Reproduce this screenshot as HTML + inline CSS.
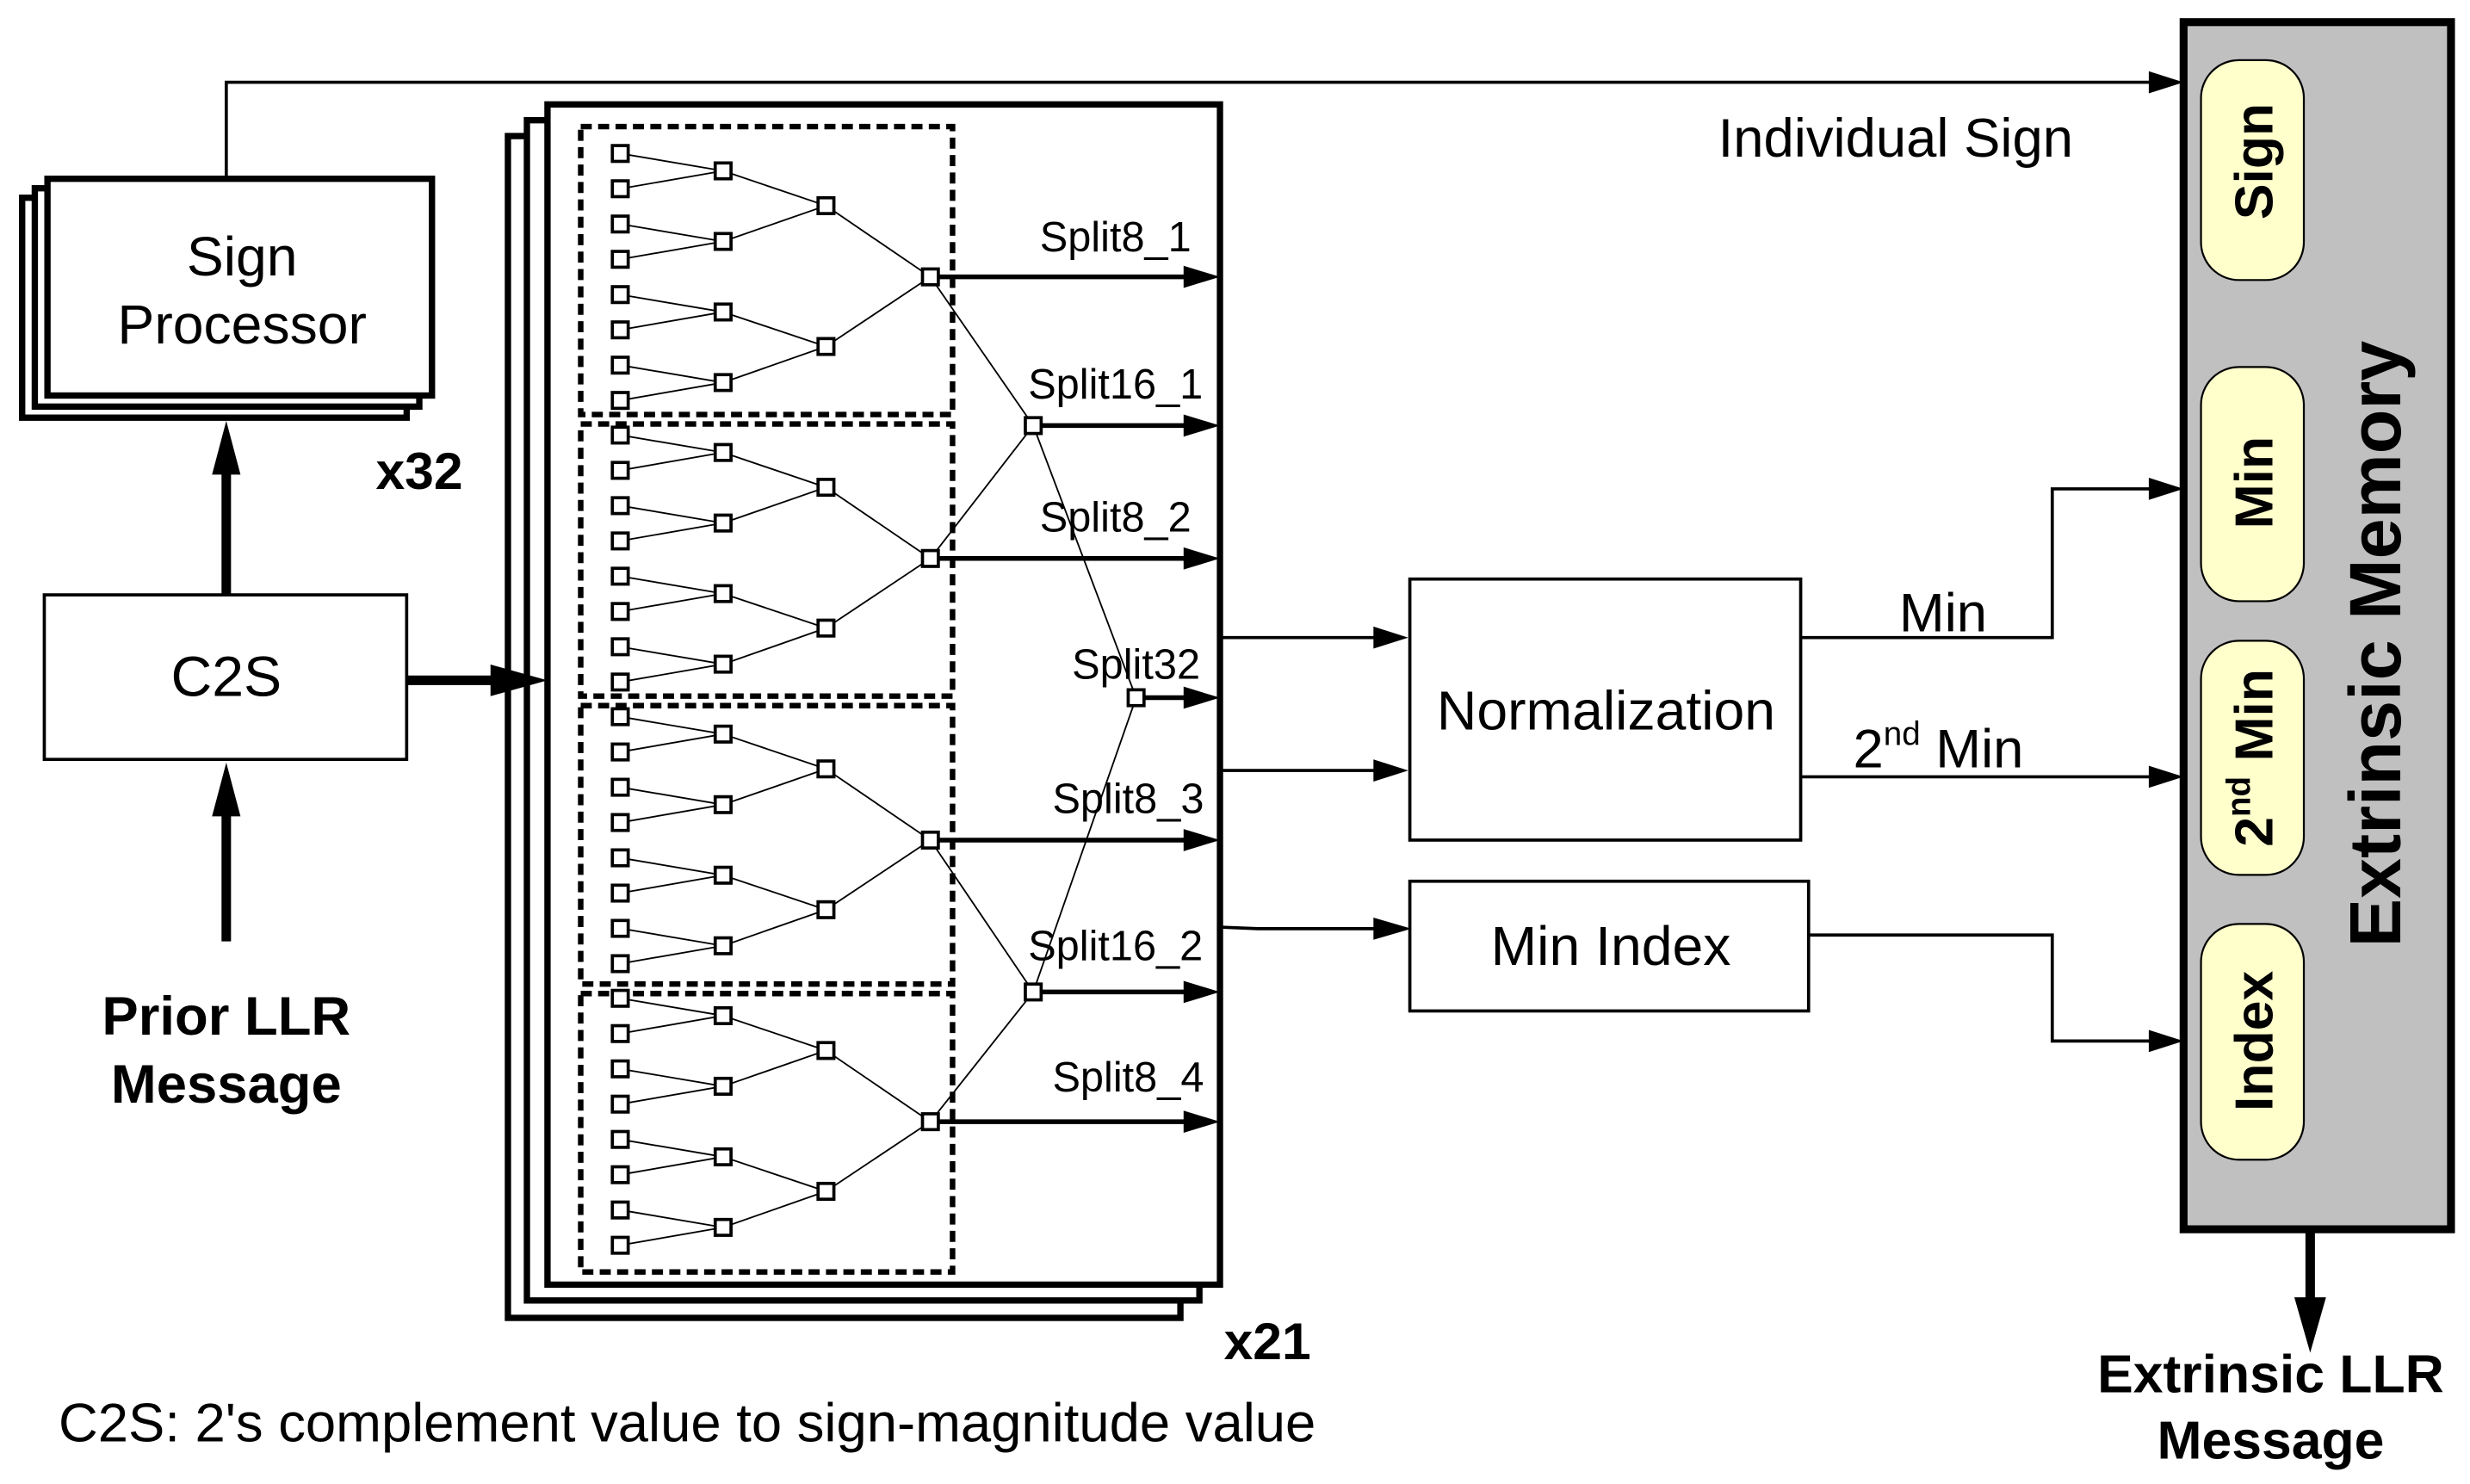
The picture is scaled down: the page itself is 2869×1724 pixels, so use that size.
<!DOCTYPE html>
<html><head><meta charset="utf-8"><style>html,body{margin:0;padding:0;background:#fff}svg{display:block}</style></head>
<body>
<svg id="s" width="2869" height="1724" viewBox="0 0 1561 938" preserveAspectRatio="none" xmlns="http://www.w3.org/2000/svg" font-family="Liberation Sans, Arial, sans-serif">
<polyline points="143,113 143,52 1360,52" fill="none" stroke="#000" stroke-width="2"/>
<polygon points="1358,45 1380,52 1358,59" fill="#000"/>
<text x="1198" y="99" font-size="34.5" text-anchor="middle">Individual Sign</text>
<rect x="14" y="125" width="243" height="139" fill="#fff" stroke="#000" stroke-width="4"/>
<rect x="22" y="119" width="243" height="138" fill="#fff" stroke="#000" stroke-width="4"/>
<rect x="30" y="113" width="243" height="137" fill="#fff" stroke="#000" stroke-width="4"/>
<text x="153" y="174" font-size="35" text-anchor="middle">Sign</text>
<text x="153" y="217" font-size="35" text-anchor="middle">Processor</text>
<text x="265" y="309" font-size="33" font-weight="bold" text-anchor="middle">x32</text>
<rect x="28" y="376" width="229" height="104" fill="#fff" stroke="#000" stroke-width="2"/>
<text x="143" y="440" font-size="36" text-anchor="middle">C2S</text>
<line x1="143" y1="376" x2="143" y2="296" stroke="#000" stroke-width="6"/>
<polygon points="134,300 143,266 152,300" fill="#000"/>
<line x1="143" y1="595" x2="143" y2="512" stroke="#000" stroke-width="6"/>
<polygon points="134,516 143,482 152,516" fill="#000"/>
<text x="143" y="654" font-size="34.5" font-weight="bold" text-anchor="middle">Prior LLR</text>
<text x="143" y="697" font-size="34.5" font-weight="bold" text-anchor="middle">Message</text>
<rect x="321" y="86" width="425" height="747" fill="#fff" stroke="#000" stroke-width="4"/>
<rect x="333" y="76" width="425" height="746" fill="#fff" stroke="#000" stroke-width="4"/>
<rect x="346" y="66" width="425" height="746" fill="#fff" stroke="#000" stroke-width="4"/>
<line x1="257" y1="430" x2="315" y2="430" stroke="#000" stroke-width="6"/>
<polygon points="310,420 346,430 310,440" fill="#000"/>
<g id="tree" fill="none" stroke="#000"></g>
<text x="801" y="859" font-size="33" font-weight="bold" text-anchor="middle">x21</text>
<g font-size="26.5" text-anchor="middle">
<text x="705" y="159">Split8_1</text>
<text x="705" y="252">Split16_1</text>
<text x="705" y="336">Split8_2</text>
<text x="718" y="429">Split32</text>
<text x="713" y="514">Split8_3</text>
<text x="705" y="607">Split16_2</text>
<text x="713" y="690">Split8_4</text>
</g>
<g stroke="#000" stroke-width="2" fill="none">
<line x1="771" y1="403" x2="872" y2="403"/>
<line x1="771" y1="487" x2="872" y2="487"/>
<polyline points="771,586 795,587 872,587"/>
<polyline points="1138,403 1297,403 1297,309 1360,309"/>
<line x1="1138" y1="491" x2="1360" y2="491"/>
<polyline points="1143,591 1297,591 1297,658 1360,658"/>
</g>
<g fill="#000">
<polygon points="868,396 890,403 868,410"/>
<polygon points="868,480 890,487 868,494"/>
<polygon points="868,580 892,587 868,594"/>
<polygon points="1358,302 1380,309 1358,316"/>
<polygon points="1358,484 1380,491 1358,498"/>
<polygon points="1358,651 1380,658 1358,665"/>
</g>
<rect x="891" y="366" width="247" height="165" fill="#fff" stroke="#000" stroke-width="2"/>
<text x="1015" y="461" font-size="35" text-anchor="middle">Normalization</text>
<rect x="891" y="557" width="252" height="82" fill="#fff" stroke="#000" stroke-width="2"/>
<text x="1018" y="610" font-size="35" text-anchor="middle">Min Index</text>
<text x="1228" y="399" font-size="34.5" text-anchor="middle">Min</text>
<text x="1225" y="485" font-size="34.5" text-anchor="middle">2<tspan font-size="21" dy="-14">nd</tspan><tspan dy="14"> Min</tspan></text>
<rect x="1380" y="14" width="169" height="763" fill="#c0c0c0" stroke="#000" stroke-width="5"/>
<g fill="#ffffcc" stroke="#000" stroke-width="1.2">
<rect x="1391" y="38" width="65" height="139" rx="24"/>
<rect x="1391" y="232" width="65" height="148" rx="24"/>
<rect x="1391" y="405" width="65" height="148" rx="24"/>
<rect x="1391" y="584" width="65" height="149" rx="24"/>
</g>
<g font-weight="bold" font-size="34" text-anchor="middle">
<text transform="translate(1436,102) rotate(-90)">Sign</text>
<text transform="translate(1436,305) rotate(-90)">Min</text>
<text transform="translate(1436,479) rotate(-90)">2<tspan font-size="21" dy="-14">nd</tspan><tspan dy="14"> Min</tspan></text>
<text transform="translate(1436,658) rotate(-90)">Index</text>
<text transform="translate(1517,407) rotate(-90)" font-size="46">Extrinsic Memory</text>
</g>
<line x1="1460" y1="777" x2="1460" y2="825" stroke="#000" stroke-width="6"/>
<polygon points="1450,820 1460,855 1470,820" fill="#000"/>
<text x="1435" y="880" font-size="34" font-weight="bold" text-anchor="middle">Extrinsic LLR</text>
<text x="1435" y="922" font-size="34" font-weight="bold" text-anchor="middle">Message</text>
<text x="37" y="911" font-size="34.5">C2S: 2's complement value to sign-magnitude value</text>
</svg>
<script>
var g=document.getElementById('tree'),out='';
function ln(x1,y1,x2,y2,w){out+='<line x1="'+x1+'" y1="'+y1+'" x2="'+x2+'" y2="'+y2+'" stroke-width="'+(w||1)+'"/>';}
function arr(x1,y){ln(x1,y,752,y,3);out+='<polygon points="748,'+(y-7)+' 771,'+y+' 748,'+(y+7)+'" fill="#000" stroke="none"/>';}
function bx(x,y){out+='<rect x="'+(x-5)+'" y="'+(y-5)+'" width="10" height="10" fill="#fff" stroke-width="2"/>';}
var tops=[[80,262],[268,440],[446,622],[628,804]];
tops.forEach(function(t){out+='<rect x="367" y="'+t[0]+'" width="235" height="'+(t[1]-t[0])+'" stroke-width="3.5" stroke-dasharray="7,4"/>';});
var G=[175,353,531,709],boxes=[];
G.forEach(function(c){
 var leaves=[],l1=[],l2=[];
 for(var i=0;i<8;i++)leaves.push(c-78+i*22.3);
 for(var i=0;i<4;i++)l1.push(c-67+i*44.6);
 l2=[c-45,c+44];
 for(var i=0;i<8;i++){ln(392,leaves[i],457,l1[i>>1]);boxes.push([392,leaves[i]]);}
 for(var i=0;i<4;i++){ln(457,l1[i],522,l2[i>>1]);boxes.push([457,l1[i]]);}
 for(var i=0;i<2;i++){ln(522,l2[i],588,c);boxes.push([522,l2[i]]);}
 boxes.push([588,c]);
 arr(588,c);
});
ln(588,175,653,269);ln(588,353,653,269);ln(588,531,653,627);ln(588,709,653,627);
ln(653,269,718,441);ln(653,627,718,441);
arr(653,269);arr(653,627);arr(718,441);
boxes.push([653,269],[653,627],[718,441]);
boxes.forEach(function(b){bx(b[0],b[1]);});
g.innerHTML=out;
</script>
</body></html>
